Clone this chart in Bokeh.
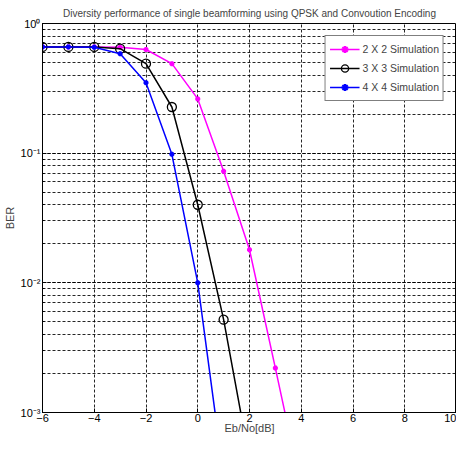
from bokeh.plotting import figure
from bokeh.models import Range1d, FixedTicker, CustomJSTickFormatter, Legend, LegendItem, LogTicker
from bokeh.embed import file_html
from bokeh.resources import INLINE

snr = [-6, -5, -4, -3, -2, -1, 0, 1, 2, 3, 4]
ber_2x2 = [0.66, 0.66, 0.66, 0.655, 0.63, 0.49, 0.262, 0.0725, 0.018, 0.0022, 0.00026]
snr_3x3 = [-6, -5, -4, -3, -2, -1, 0, 1, 2]
ber_3x3 = [0.66, 0.66, 0.66, 0.64, 0.49, 0.227, 0.040, 0.0052, 0.00043]
snr_4x4 = [-6, -5, -4, -3, -2, -1, 0, 1]
ber_4x4 = [0.66, 0.66, 0.655, 0.585, 0.349, 0.098, 0.010, 0.00032]
x_ticks = [-6, -4, -2, 0, 2, 4, 6, 8, 10]
title = "Diversity performance of single beamforming using QPSK and Convoution Encoding"

FONT = "Liberation Sans"

p = figure(width=456, height=436, y_axis_type="log",
           x_range=Range1d(-6, 10), y_range=Range1d(1e-3, 1),
           output_backend="svg", toolbar_location=None,
           min_border_left=30, min_border_right=0, min_border_top=8, min_border_bottom=0)

p.title.text = title
p.title.text_font = FONT
p.title.text_font_size = "10px"
p.title.text_font_style = "normal"
p.title.align = "center"
p.title.offset = 4

p.outline_line_color = "black"
p.outline_line_width = 1
p.background_fill_color = "white"

for ax in (p.xaxis[0], p.yaxis[0]):
    ax.axis_line_color = "black"
    ax.major_tick_in = 4
    ax.major_tick_out = 0
    ax.minor_tick_in = 2
    ax.minor_tick_out = 0
    ax.major_label_text_font = FONT
    ax.major_label_text_font_size = "11px"
    ax.major_label_text_color = "black"
    ax.axis_label_text_font = FONT
    ax.axis_label_text_font_size = "11px"
    ax.axis_label_text_font_style = "normal"

p.xaxis.ticker = FixedTicker(ticks=x_ticks)
p.xaxis.minor_tick_line_color = None
p.xaxis.axis_label = "Eb/No[dB]"
p.xaxis.axis_label_standoff = -3
p.xaxis.major_label_standoff = 1

p.yaxis.ticker = LogTicker(num_minor_ticks=10)
p.yaxis.formatter = CustomJSTickFormatter(code="""
const sup = {"0":"\u2070","1":"\u00b9","2":"\u00b2","3":"\u00b3","-":"\u207b"};
const e = Math.round(Math.log10(tick));
return "10" + String(e).split("").map(c => sup[c]).join("");
""")
p.yaxis.axis_label = "BER"
p.yaxis.axis_label_standoff = 2
p.yaxis.major_label_standoff = 2

for g in (p.xgrid[0], p.ygrid[0]):
    g.grid_line_color = "black"
    g.grid_line_dash = "3 2"
    g.grid_line_width = 1
    g.grid_line_alpha = 0.85
p.ygrid.minor_grid_line_color = "black"
p.ygrid.minor_grid_line_dash = "3 2"
p.ygrid.minor_grid_line_alpha = 0.85

l1 = p.line(snr, ber_2x2, line_color="#ff00ff", line_width=1.5)
m1 = p.scatter(snr, ber_2x2, marker="asterisk", size=5, line_color="#ff00ff", line_width=2)
l2 = p.line(snr_3x3, ber_3x3, line_color="black", line_width=1.5)
m2 = p.scatter(snr_3x3, ber_3x3, marker="circle", size=9, line_color="black",
               fill_color=None, line_width=1.3)
l3 = p.line(snr_4x4, ber_4x4, line_color="#0000ff", line_width=1.5)
m3 = p.scatter(snr_4x4, ber_4x4, marker="asterisk", size=5, line_color="#0000ff", line_width=2)

legend = Legend(items=[
    LegendItem(label="2 X 2 Simulation", renderers=[l1, m1]),
    LegendItem(label="3 X 3 Simulation", renderers=[l2, m2]),
    LegendItem(label="4 X 4 Simulation", renderers=[l3, m3]),
], location="top_right")
legend.border_line_color = "black"
legend.border_line_width = 1
legend.background_fill_color = "white"
legend.background_fill_alpha = 1
legend.label_text_font = FONT
legend.label_text_font_size = "10.5px"
legend.glyph_width = 30
legend.glyph_height = 18
legend.label_standoff = 3
legend.spacing = 1
legend.padding = 4
legend.margin = 12
p.add_layout(legend)

open("out.html", "w").write(file_html(p, INLINE))
